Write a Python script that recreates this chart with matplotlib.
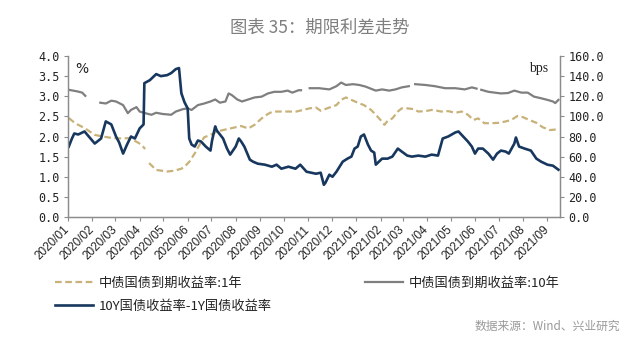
import matplotlib
matplotlib.use("Agg")
import matplotlib.pyplot as plt
import matplotlib.dates as mdates
from matplotlib.ticker import FormatStrFormatter, MultipleLocator
import numpy as np
import pandas as pd

nan = np.nan

# ---- data ----
y1_dates = ["2020-01-02","2020-01-10","2020-01-22","2020-02-04","2020-02-14","2020-02-27","2020-03-10",
            "2020-03-18","2020-03-28","2020-04-03","2020-04-08","2020-04-10","2020-04-13","2020-04-22",
            "2020-05-06","2020-05-15","2020-05-24","2020-05-28","2020-06-03","2020-06-10","2020-06-16",
            "2020-06-22","2020-06-30","2020-07-08","2020-07-16","2020-08-01","2020-08-08","2020-08-17",
            "2020-08-25","2020-09-03","2020-09-11","2020-09-17","2020-09-30","2020-10-17","2020-11-03",
            "2020-11-11","2020-11-17","2020-11-28","2020-12-07","2020-12-13","2020-12-19","2020-12-26",
            "2021-01-03","2021-01-11","2021-01-20","2021-01-26","2021-02-01","2021-02-06","2021-02-10",
            "2021-02-16","2021-02-23","2021-02-28","2021-03-07","2021-03-15","2021-03-21","2021-03-30",
            "2021-04-07","2021-04-14","2021-04-19","2021-04-28","2021-05-07","2021-05-15","2021-05-23",
            "2021-05-30","2021-06-05","2021-06-13","2021-06-22","2021-07-01","2021-07-09","2021-07-17",
            "2021-07-25","2021-08-01","2021-08-09","2021-08-18","2021-08-26","2021-09-04","2021-09-10",
            "2021-09-15"]
y1_values = [2.46,2.33,2.21,2.04,2.00,1.96,1.95,
             1.96,1.87,1.80,1.69,nan,1.34,1.17,
             1.13,1.15,1.20,1.25,1.37,1.58,1.79,
             1.98,2.04,2.12,2.16,2.23,2.26,2.20,
             2.29,2.45,2.56,2.62,2.62,2.62,2.70,
             2.72,2.64,2.72,2.78,2.91,2.97,2.91,
             2.84,2.78,2.66,2.54,2.41,2.29,2.39,
             2.45,2.62,2.70,2.70,2.68,2.62,2.63,
             2.66,2.64,2.62,2.63,2.59,2.62,2.54,
             2.41,2.45,2.33,2.33,2.34,2.37,2.41,
             2.51,2.48,2.41,2.34,2.23,2.16,2.17,
             2.20]

y10_dates = ["2020-01-02","2020-01-13","2020-01-19","2020-01-23","2020-01-24","2020-02-11","2020-02-18",
             "2020-02-25","2020-03-02","2020-03-11","2020-03-17","2020-03-21","2020-03-28","2020-04-01",
             "2020-04-08","2020-04-16","2020-04-22","2020-04-30","2020-05-11","2020-05-17","2020-05-26",
             "2020-06-01","2020-06-06","2020-06-14","2020-06-22","2020-06-30","2020-07-06","2020-07-12",
             "2020-07-19","2020-07-23","2020-07-27","2020-08-03","2020-08-09","2020-08-17","2020-08-25",
             "2020-09-03","2020-09-11","2020-09-19","2020-09-28","2020-10-06","2020-10-12","2020-10-20",
             "2020-10-23","2020-10-26","2020-11-03","2020-11-15","2020-11-28","2020-12-07","2020-12-13",
             "2020-12-19","2020-12-28","2021-01-05","2021-01-13","2021-01-22","2021-01-26","2021-02-03",
             "2021-02-12","2021-02-20","2021-02-28","2021-03-09","2021-03-12","2021-03-17","2021-03-30",
             "2021-04-11","2021-04-24","2021-05-07","2021-05-19","2021-05-28","2021-06-03","2021-06-06",
             "2021-06-09","2021-06-18","2021-06-26","2021-07-04","2021-07-13","2021-07-21","2021-07-30",
             "2021-08-07","2021-08-15","2021-08-24","2021-09-01","2021-09-08","2021-09-11","2021-09-15"]
y10_values = [3.16,3.12,3.09,3.01,nan,2.84,2.82,
              2.89,2.87,2.78,2.58,2.66,2.73,2.62,
              2.58,2.54,2.59,2.56,2.54,2.62,2.68,
              2.70,2.66,2.78,2.82,2.87,2.92,2.84,
              2.87,3.07,3.03,2.92,2.87,2.92,2.97,
              2.99,3.07,3.11,3.11,3.14,3.09,3.15,
              3.15,nan,3.20,3.20,3.17,3.25,3.34,
              3.28,3.30,3.28,3.24,3.17,3.14,3.17,
              3.14,3.17,3.22,3.25,nan,3.30,3.28,
              3.25,3.20,3.20,3.17,3.22,3.19,nan,
              3.16,3.11,3.09,3.07,3.08,3.14,3.09,
              3.09,2.99,2.95,2.91,2.87,2.83,2.91]

spread_dates = ["2020-01-02","2020-01-06","2020-01-09","2020-01-14","2020-01-22","2020-02-04","2020-02-12",
                "2020-02-18","2020-02-25","2020-03-02","2020-03-06","2020-03-11","2020-03-16","2020-03-21",
                "2020-03-26","2020-04-01","2020-04-06","2020-04-07","2020-04-14","2020-04-22","2020-04-28",
                "2020-05-06","2020-05-11","2020-05-17","2020-05-21","2020-05-24","2020-05-28","2020-06-01",
                "2020-06-03","2020-06-06","2020-06-10","2020-06-14","2020-06-18","2020-06-24","2020-06-30",
                "2020-07-02","2020-07-06","2020-07-08","2020-07-12","2020-07-16","2020-07-21","2020-07-25",
                "2020-08-01","2020-08-05","2020-08-08","2020-08-12","2020-08-19","2020-08-23","2020-08-29",
                "2020-09-07","2020-09-16","2020-09-22","2020-09-28","2020-10-07","2020-10-16","2020-10-22",
                "2020-10-30","2020-11-05","2020-11-11","2020-11-17","2020-11-21","2020-11-23","2020-11-28",
                "2020-12-02","2020-12-07","2020-12-15","2020-12-21","2020-12-26","2020-12-30","2021-01-03",
                "2021-01-07","2021-01-11","2021-01-16","2021-01-20","2021-01-24","2021-01-26","2021-01-30",
                "2021-02-03","2021-02-10","2021-02-16","2021-02-23","2021-02-28","2021-03-07","2021-03-13",
                "2021-03-21","2021-03-30","2021-04-07","2021-04-15","2021-04-21","2021-04-28","2021-05-07",
                "2021-05-11","2021-05-17","2021-05-23","2021-05-28","2021-06-01","2021-06-05","2021-06-11",
                "2021-06-18","2021-06-24","2021-06-29","2021-07-04","2021-07-10","2021-07-14","2021-07-21",
                "2021-07-23","2021-07-27","2021-08-03","2021-08-11","2021-08-18","2021-08-24","2021-09-01",
                "2021-09-08","2021-09-15"]
spread_bps = [70,78,83,82,85,73,78,
              95,92,80,74,63,72,80,
              78,88,92,133,136,142,140,
              141,143,147,148,123,114,108,
              78,72,70,76,75,70,66,
              76,90,86,82,78,68,62,
              70,78,75,70,57,55,53,
              52,50,52,48,50,48,52,
              45,44,43,44,32,34,42,
              40,45,55,58,60,68,70,
              80,82,72,66,64,52,55,
              58,58,60,68,65,61,60,
              61,60,62,61,78,80,84,
              85,80,75,70,63,68,68,
              63,57,63,66,65,63,73,
              79,70,68,66,58,55,52,
              51,47]

month_ticks = pd.date_range("2020-01-01", "2021-09-01", freq="MS")
x_start, x_end = "2020-01-01", "2021-09-17"

# ---- style ----
plt.rcParams['font.family'] = ['Noto Sans CJK SC', 'DejaVu Sans']
c_1y = '#c8b27a'
c_10y = '#7f7f7f'
c_sp = '#17375e'
c_axis = '#8c8c8c'

fig = plt.figure(figsize=(6.4, 3.41), dpi=100)
ax = fig.add_axes([68/640, 1-217/341, (560-68)/640, (217-56)/341])
ax2 = ax.twinx()

d1 = pd.to_datetime(y1_dates)
d10 = pd.to_datetime(y10_dates)
ds = pd.to_datetime(spread_dates)

l1, = ax.plot(d1, y1_values, color=c_1y, lw=1.6, ls=(0, (3, 1.6)), label='中债国债到期收益率:1年')
l10, = ax.plot(d10, y10_values, color=c_10y, lw=1.6, label='中债国债到期收益率:10年')
ls_, = ax2.plot(ds, spread_bps, color=c_sp, lw=1.9, label='10Y国债收益率-1Y国债收益率')

ax.set_xlim(pd.Timestamp(x_start), pd.Timestamp(x_end))
ax.set_ylim(0, 4.0)
ax2.set_ylim(0, 160)
ax.yaxis.set_major_locator(MultipleLocator(0.5))
ax2.yaxis.set_major_locator(MultipleLocator(20))
ax.yaxis.set_major_formatter(FormatStrFormatter('%.1f'))
ax2.yaxis.set_major_formatter(FormatStrFormatter('%.1f'))
ax.set_xticks(month_ticks)
ax.xaxis.set_major_formatter(mdates.DateFormatter('%Y/%m'))

for a in (ax, ax2):
    a.spines['top'].set_visible(False)
    for s in ('left', 'right', 'bottom'):
        a.spines[s].set_color(c_axis)
        a.spines[s].set_linewidth(0.9)
    a.tick_params(direction='out', length=3, width=0.8, color=c_axis)
    a.set_facecolor('none')

mono = 'DejaVu Sans Mono'
for lab in ax.get_yticklabels():
    lab.set_fontfamily(mono); lab.set_fontsize(8.5); lab.set_color('#222222')
for lab in ax2.get_yticklabels():
    lab.set_fontfamily(mono); lab.set_fontsize(8.5); lab.set_color('#222222')
ax.tick_params(axis='y', pad=3)
ax2.tick_params(axis='y', pad=3)
for lab in ax.get_xticklabels():
    lab.set_fontfamily('Liberation Sans'); lab.set_fontsize(8.5); lab.set_color('#222222')
    lab.set_rotation(45); lab.set_ha('right'); lab.set_va('center'); lab.set_rotation_mode('anchor')
ax.tick_params(axis='x', pad=5)

ax.text(0.015, 0.965, '%', transform=ax.transAxes, fontsize=10, va='top', ha='left',
        family='DejaVu Sans', color='#222222')
ax2.text(0.975, 0.965, 'bps', transform=ax2.transAxes, fontsize=10, va='top', ha='right',
         family='Liberation Serif', color='#222222')

fig.text(0.5, 1-28/341, '图表 35：期限利差走势', ha='center', va='center', fontsize=12.5, color='#7f7f7f')

leg = fig.legend(handles=[l1, ls_, l10], loc='upper left', bbox_to_anchor=(55/640, 1-277/341),
                 ncol=2, frameon=False, fontsize=9.5, handlelength=2.9, handletextpad=0.45,
                 columnspacing=7.0, labelspacing=0.75, borderpad=0, borderaxespad=0)
for t in leg.get_texts():
    t.set_color('#222222')

fig.text(620/640, 1-326/341, '数据来源：Wind、兴业研究', ha='right', va='center', fontsize=8.5, color='#999999')

fig.savefig('out.png', dpi=100)
